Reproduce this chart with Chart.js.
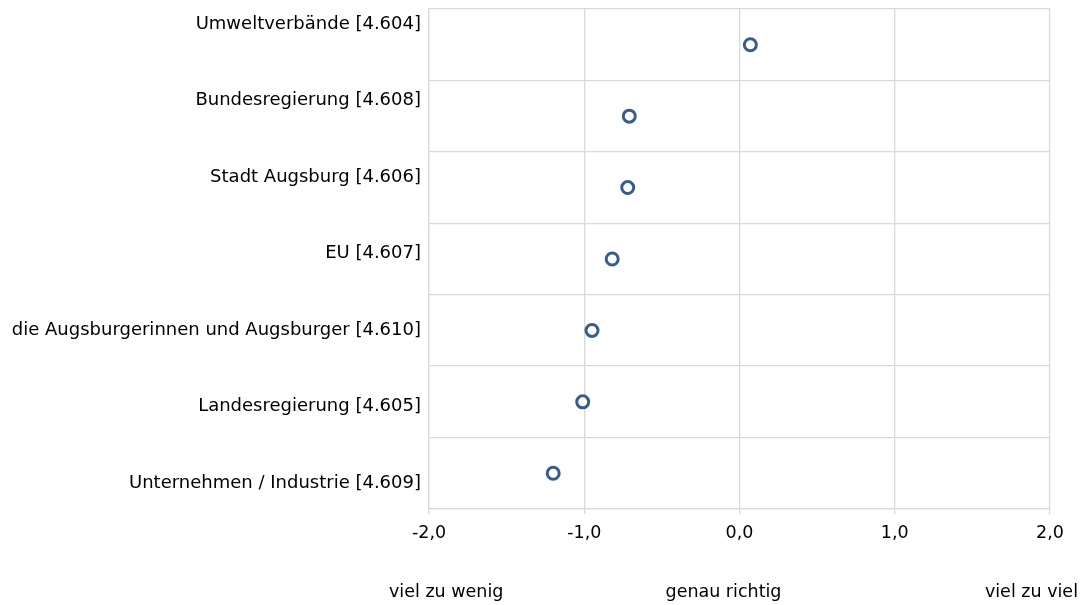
<!DOCTYPE html>
<html>
<head>
<meta charset="utf-8">
<script src="https://cdn.jsdelivr.net/npm/chart.js@4.4.1/dist/chart.umd.min.js"></script>
<style>
  html, body { margin: 0; padding: 0; background: #ffffff; }
  #wrap { width: 1083px; height: 605px; position: relative; }
</style>
</head>
<body>
<div id="wrap"><canvas id="c" width="1083" height="605"></canvas></div>
<script>
const categories = [
  "Umweltverbände [4.604]",
  "Bundesregierung [4.608]",
  "Stadt Augsburg [4.606]",
  "EU [4.607]",
  "die Augsburgerinnen und Augsburger [4.610]",
  "Landesregierung [4.605]",
  "Unternehmen / Industrie [4.609]"
];
const meanValues = [0.07, -0.71, -0.72, -0.82, -0.95, -1.01, -1.20];
const xTickValues = [-2, -1, 0, 1, 2];
const scaleLabels = ["viel zu wenig", "genau richtig", "viel zu viel"];

const FONT = "'DejaVu Sans', sans-serif";
const MARK = "#385D8A";
const GRID = "#d9d9d9";

const scaleLabelPlugin = {
  id: 'scaleLabels',
  afterDraw(chart) {
    const ctx = chart.ctx;
    const xs = chart.scales.x;
    ctx.save();
    ctx.font = "17.5px " + FONT;
    ctx.fillStyle = "#000000";
    ctx.textBaseline = "middle";
    const y = 592;
    ctx.textAlign = "left";
    ctx.fillText(scaleLabels[0], xs.getPixelForValue(xTickValues[0]) - 40, y);
    ctx.textAlign = "center";
    ctx.fillText(scaleLabels[1], xs.getPixelForValue(xTickValues[2]) - 16, y);
    ctx.textAlign = "right";
    ctx.fillText(scaleLabels[2], xs.getPixelForValue(xTickValues[4]) + 28, y);
    ctx.restore();
  }
};

new Chart(document.getElementById('c'), {
  type: 'line',
  data: {
    labels: categories,
    datasets: [{
      data: meanValues,
      showLine: false,
      pointStyle: 'circle',
      pointRadius: 6,
      pointHoverRadius: 6,
      pointBorderWidth: 3,
      pointBackgroundColor: '#ffffff',
      pointBorderColor: MARK,
      borderColor: MARK,
      backgroundColor: '#ffffff'
    }]
  },
  options: {
    indexAxis: 'y',
    responsive: false,
    animation: false,
    layout: { padding: { top: 7, right: 33, bottom: 0, left: 0 } },
    plugins: { legend: { display: false }, tooltip: { enabled: false } },
    scales: {
      x: {
        type: 'linear',
        position: 'bottom',
        min: -2,
        max: 2,
        afterBuildTicks(scale) { scale.ticks = xTickValues.map(v => ({ value: v })); },
        afterFit(scale) { scale.height = 96; scale.paddingLeft = 0; scale.paddingRight = 0; },
        ticks: {
          color: '#000000',
          font: { family: FONT, size: 17.5 },
          padding: 9,
          maxRotation: 0,
          callback: (v) => Number(v).toFixed(1).replace('.', ',')
        },
        grid: { color: GRID, lineWidth: 1.3, tickLength: 5, drawTicks: true },
        border: { color: GRID, width: 1.3 }
      },
      y: {
        type: 'category',
        position: 'left',
        offset: true,
        weight: 0,
        afterFit(scale) { scale.width = 0; scale.paddingTop = 0; scale.paddingBottom = 0; },
        ticks: { display: false },
        grid: { color: GRID, lineWidth: 1.3, offset: true, drawTicks: false },
        border: { color: GRID, width: 1.3 }
      },
      yLabels: {
        type: 'linear',
        position: 'left',
        reverse: true,
        weight: 1,
        min: -0.195,
        max: 6.338,
        afterBuildTicks(scale) { scale.ticks = categories.map((_, i) => ({ value: i })); },
        afterFit(scale) { scale.width = 429; scale.paddingTop = 0; scale.paddingBottom = 0; },
        ticks: {
          color: '#000000',
          font: { family: FONT, size: 18 },
          padding: 8,
          autoSkip: false,
          callback: (v) => categories[v]
        },
        grid: { display: false, drawTicks: false },
        border: { display: false }
      }
    }
  },
  plugins: [scaleLabelPlugin]
});
</script>
</body>
</html>
